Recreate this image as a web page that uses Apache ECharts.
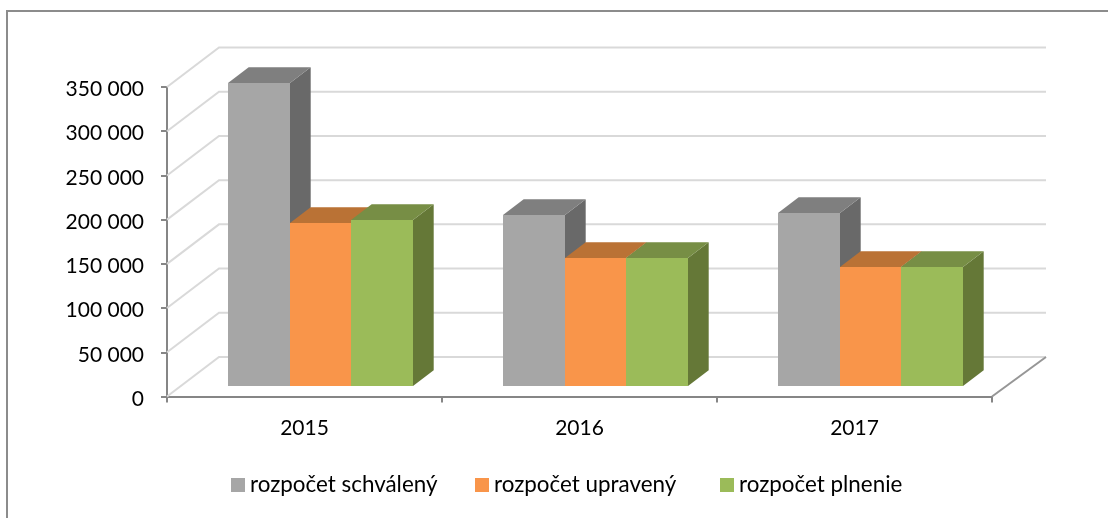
<!DOCTYPE html>
<html>
<head>
<meta charset="utf-8">
<style>
html, body { margin: 0; padding: 0; background: #fff; }
#container { width: 1108px; height: 518px; }
</style>
<script src="https://cdn.jsdelivr.net/npm/echarts@6/dist/echarts.min.js"></script>
</head>
<body>
<div id="container"></div>
<script>
var categories = ['2015', '2016', '2017'];
var seriesNames = ['rozpočet schválený', 'rozpočet upravený', 'rozpočet plnenie'];
var schvaleny = [342900, 192800, 195800];
var upraveny = [183800, 144800, 134000];
var plnenie = [187500, 144800, 134300];
var yTicks = [0, 50000, 100000, 150000, 200000, 250000, 300000, 350000];

var faceColors = ['#A6A6A6', '#F9954A', '#9BBB59'];
var topColors = ['#7F7F7F', '#BA7235', '#778E45'];
var sideColors = ['#696969', '#96582A', '#657837'];

var myChart = echarts.init(document.getElementById('container'));

// 3D look of the old office chart, all in pixels
var wallDx = 52, wallDy = -39.5;     // floor depth
var wallRight = 54;                  // back lines run a bit further on the right
var barDx = 15.9, barDy = -10.7;     // front of the bars from the axis plane
var depthDx = 20.7, depthDy = -15.7; // depth of one bar
var barShare = 0.2235;               // bar width / category width

function formatTick(v) {
    return String(v).replace(/\B(?=(\d{3})+$)/g, ' ');
}

function poly(points, color) {
    return {
        type: 'polygon',
        shape: {points: points},
        style: {fill: color, stroke: null}
    };
}

// left diagonal + back line for every tick
function renderWall(params, api) {
    var sys = params.coordSys;
    var p = api.coord([0, api.value(0)]);
    var y = p[1];
    return {
        type: 'polyline',
        shape: {
            points: [
                [sys.x, y],
                [sys.x + wallDx, y + wallDy],
                [sys.x + sys.width + wallRight, y + wallDy]
            ]
        },
        style: {fill: null, stroke: '#D9D9D9', lineWidth: 2},
        silent: true
    };
}

function makeRenderBar(seriesIndex) {
    return function (params, api) {
        var cat = api.value(0);
        var top = api.coord([cat, api.value(1)]);
        var base = api.coord([cat, 0]);
        var band = api.size([1, 0])[0];
        var w = band * barShare;
        // snap to pixels so neighbouring bars have no seam
        var x0 = Math.round(top[0] + (seriesIndex - 1.5) * w + barDx);
        var x1 = Math.round(top[0] + (seriesIndex - 0.5) * w + barDx);
        var yt = Math.round(top[1] + barDy);
        var yb = Math.round(base[1] + barDy);
        return {
            type: 'group',
            children: [
                poly([[x1, yt], [x1 + depthDx, yt + depthDy], [x1 + depthDx, yb + depthDy], [x1, yb]], sideColors[seriesIndex]),
                poly([[x0, yt], [x0 + depthDx, yt + depthDy], [x1 + depthDx, yt + depthDy], [x1, yt]], topColors[seriesIndex]),
                poly([[x0, yt], [x1, yt], [x1, yb], [x0, yb]], faceColors[seriesIndex])
            ]
        };
    };
}

function renderFloorEdge(params, api) {
    var sys = params.coordSys;
    var y = sys.y + sys.height;
    var x = sys.x + sys.width;
    return {
        type: 'line',
        shape: {x1: x, y1: y, x2: x + wallRight, y2: y + wallDy},
        style: {stroke: '#969696', lineWidth: 2},
        silent: true
    };
}

var allValues = [schvaleny, upraveny, plnenie];
var series = [{
    name: 'wall',
    type: 'custom',
    renderItem: renderWall,
    data: yTicks.map(function (t) { return [t]; }),
    encode: {y: 0},
    silent: true,
    z: 1
}, {
    name: 'floorEdge',
    type: 'custom',
    renderItem: renderFloorEdge,
    data: [[0]],
    silent: true,
    z: 1
}];
seriesNames.forEach(function (name, i) {
    series.push({
        name: name,
        type: 'custom',
        renderItem: makeRenderBar(i),
        itemStyle: {color: faceColors[i]},
        encode: {x: 0, y: 1},
        data: allValues[i].map(function (v, c) { return [c, v]; }),
        silent: true,
        z: 2 + i
    });
});

// one legend per entry, the gaps in the reference are not even
var legendLeft = [226, 470, 715];
var legends = seriesNames.map(function (name, i) {
    return {
        data: [name],
        left: legendLeft[i],
        top: 469,
        icon: 'rect',
        itemWidth: 14,
        itemHeight: 14,
        textStyle: {fontFamily: 'Lato', fontSize: 22.4, color: '#000'},
        selectedMode: false
    };
});

var option = {
    animation: false,
    backgroundColor: '#fff',
    textStyle: {fontFamily: 'Lato'},
    graphic: [{
        type: 'polyline',
        shape: {points: [[7, 518], [7, 11], [1108, 11]]},
        style: {fill: null, stroke: '#8C8C8C', lineWidth: 2},
        silent: true
    }],
    grid: {left: 167, right: 116, top: 87, bottom: 121.5},
    legend: legends,
    xAxis: {
        type: 'category',
        data: categories,
        axisLine: {lineStyle: {color: '#868686', width: 2}},
        axisTick: {show: true, length: 6, lineStyle: {color: '#868686', width: 2}},
        axisLabel: {color: '#000', fontFamily: 'Lato', fontSize: 21, margin: 21},
        splitLine: {show: false}
    },
    yAxis: {
        type: 'value',
        min: 0,
        max: 350000,
        interval: 50000,
        axisLine: {show: true, lineStyle: {color: '#868686', width: 2}},
        axisTick: {show: true, length: 6, lineStyle: {color: '#868686', width: 2}},
        axisLabel: {color: '#000', fontFamily: 'Lato', fontSize: 21, lineHeight: 21, margin: 23, verticalAlign: 'top', padding: [-8, 0, 0, 0], formatter: formatTick},
        splitLine: {show: false}
    },
    series: series
};

myChart.setOption(option);
</script>
</body>
</html>
